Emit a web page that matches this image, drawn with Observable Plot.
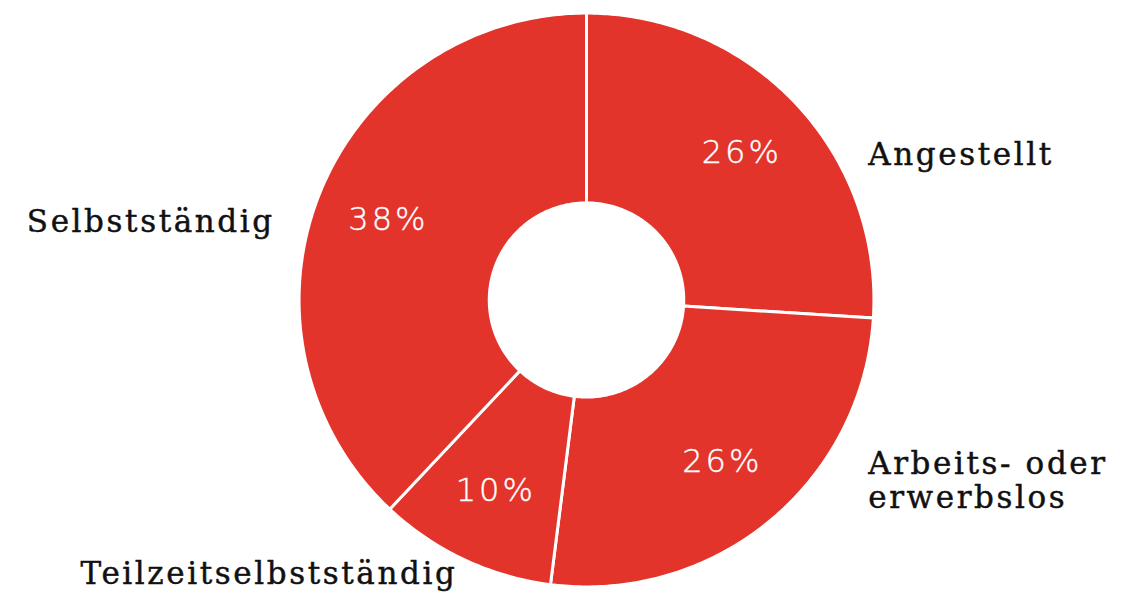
<!DOCTYPE html>
<html>
<head>
<meta charset="utf-8">
<script src="https://cdn.jsdelivr.net/npm/d3@7"></script>
<script src="https://cdn.jsdelivr.net/npm/@observablehq/plot@0.6"></script>
<style>
  body { margin: 0; background: #fff; }
  #chart svg { display: block; }
  #chart .pct text { letter-spacing: 3px; }
  #chart .name text { letter-spacing: 2.6px; }
</style>
</head>
<body>
<div id="chart"></div>
<script>
// Employment status shares (percent)
const categories = ["Angestellt", "Arbeits- oder\nerwerbslos", "Teilzeitselbstständig", "Selbstständig"];
const shares = [26, 26, 10, 38];

const RED = "#e3342b";
const innerR = 0.34;   // hole radius, in units of the outer radius
const outerR = 1.005;

// Slices run clockwise from 12 o'clock, in the given order
const slices = d3.pie().sort(null).value(d => d)(shares);

// Outline of each ring segment as a closed polygon (x to the right, y up)
const ring = [];
slices.forEach((s, i) => {
  const n = Math.max(12, Math.ceil((s.endAngle - s.startAngle) * 80));
  for (let k = 0; k <= n; k++) {
    const a = s.startAngle + (s.endAngle - s.startAngle) * k / n;
    ring.push({cat: categories[i], x: outerR * Math.sin(a), y: outerR * Math.cos(a)});
  }
  for (let k = n; k >= 0; k--) {
    const a = s.startAngle + (s.endAngle - s.startAngle) * k / n;
    ring.push({cat: categories[i], x: innerR * Math.sin(a), y: innerR * Math.cos(a)});
  }
});

// Percent labels sit inside the ring; category names outside it,
// in a column beside the donut, or below it for slices near the bottom
const labels = slices.map((s, i) => {
  const mid = (s.startAngle + s.endAngle) / 2;
  const sx = Math.sin(mid), cy = Math.cos(mid);
  const ix = 0.745 * sx, iy = 0.745 * cy;
  let ox, oy, anchor;
  if (Math.abs(cy) > 0.85) {
    ox = 1.06 * sx; oy = 1.06 * cy; anchor = sx < 0 ? "end" : "start";
  } else {
    ox = sx > 0 ? 0.985 : -1.09; oy = iy; anchor = sx > 0 ? "start" : "end";
  }
  return {cat: categories[i], pct: `${shares[i]}%`, ix, iy, ox, oy, anchor};
});

const nameStyle = {
  x: "ox", y: "oy", text: "cat",
  lineAnchor: "top", dy: -14, lineHeight: 1.1,
  fontSize: 31, fontFamily: "DejaVu Serif",
  fill: "#111", stroke: "#111", strokeWidth: 0.45
};

const chart = Plot.plot({
  width: 1122,
  height: 600,
  marginLeft: 300,
  marginRight: 250,
  marginTop: 14,
  marginBottom: 15,
  x: {domain: [-1, 1], axis: null},
  y: {domain: [-1, 1], axis: null},
  style: {background: "#fff", overflow: "visible"},
  marks: [
    Plot.line(ring, {
      x: "x", y: "y", z: "cat", curve: "linear-closed",
      fill: RED, stroke: "white", strokeWidth: 3
    }),
    Plot.text(labels, {
      x: "ix", y: "iy", dy: -2, text: "pct",
      fill: "white", stroke: "white", strokeWidth: 0.4,
      fontSize: 32, fontFamily: "DejaVu Sans", fontWeight: 200
    }),
    Plot.text(labels, {...nameStyle, filter: d => d.anchor === "start", textAnchor: "start"}),
    Plot.text(labels, {...nameStyle, filter: d => d.anchor === "end", textAnchor: "end"})
  ]
});

// Tag the text layers so the stylesheet can space their letters
const textLayers = chart.querySelectorAll('g[aria-label="text"]');
textLayers[0].classList.add("pct");
textLayers[1].classList.add("name");
textLayers[2].classList.add("name");

document.getElementById("chart").append(chart);
</script>
</body>
</html>
